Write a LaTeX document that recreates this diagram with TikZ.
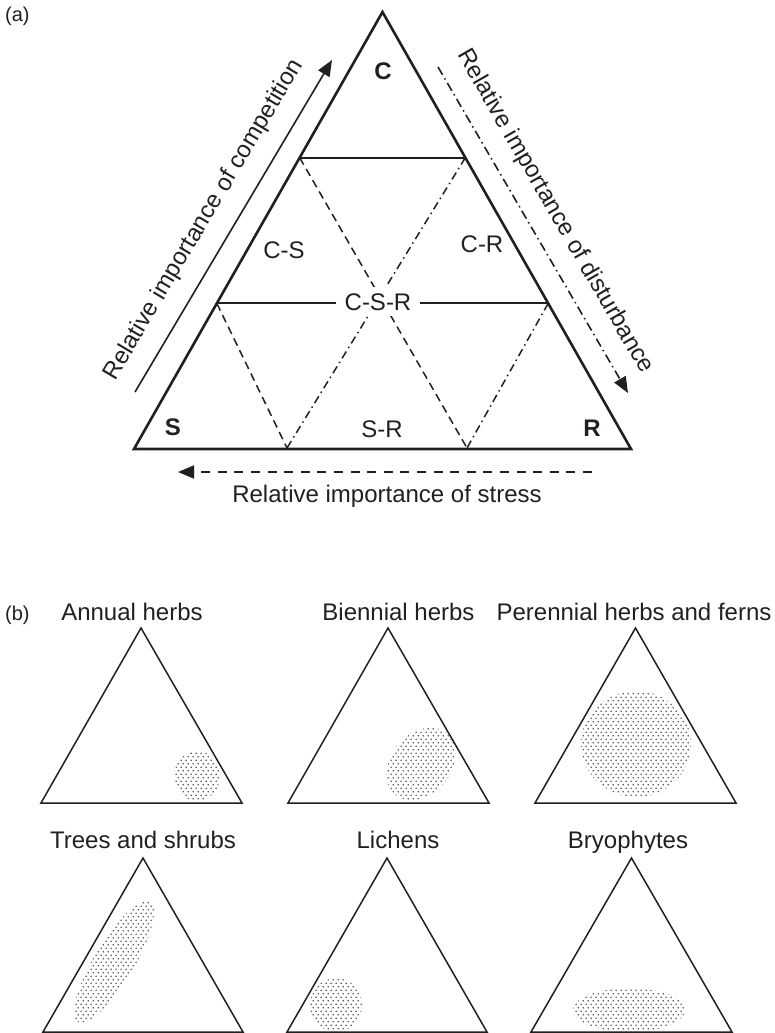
\documentclass[tikz,border=0pt]{standalone}
\usepackage{fontspec}
\setmainfont{Liberation Sans}
\usetikzlibrary{arrows.meta,patterns,calc}
\pgfdeclarepatternformonly{stipple}{\pgfqpoint{0pt}{0pt}}{\pgfqpoint{5pt}{7.4pt}}{\pgfqpoint{5pt}{7.4pt}}{%
  \pgfpathcircle{\pgfqpoint{1.25pt}{1.85pt}}{0.85pt}%
  \pgfpathcircle{\pgfqpoint{3.75pt}{5.55pt}}{0.85pt}%
  \pgfusepath{fill}%
}
\definecolor{ink}{HTML}{231F20}
\begin{document}
\begin{tikzpicture}[x=1pt,y=1pt,font=\fontsize{24}{28}\selectfont,
  lab/.style={inner sep=0pt,text=ink},
  panel/.style={inner sep=0pt,text=ink,font=\fontsize{20}{24}\selectfont},
  mainline/.style={draw=ink,line width=2.6pt,line join=miter},
  thinline/.style={draw=ink,line width=1.7pt},
  dsh/.style={draw=ink,line width=1.5pt,dash pattern=on 8pt off 5pt},
  ddot/.style={draw=ink,line width=1.5pt,dash pattern=on 8pt off 4pt on 1.5pt off 4pt},
  arr/.style={draw=ink,line width=1.6pt,-{Triangle[length=16pt,width=13pt]}},
  smalltri/.style={draw=ink,line width=1.5pt,line join=miter},
  blob/.style={pattern=stipple,pattern color=black!85}]
\useasboundingbox (0,0) rectangle (775,-1033);

% ---------- panel (a) ----------
\node[panel,anchor=base west] (pa) at (5,-22) {(a)};

\coordinate (C) at (382.5,-12);
\coordinate (S) at (134,-449);
\coordinate (R) at (631,-449);
\coordinate (L1) at ($(S)!2/3!(C)$);
\coordinate (L2) at ($(S)!1/3!(C)$);
\coordinate (R1) at ($(R)!2/3!(C)$);
\coordinate (R2) at ($(R)!1/3!(C)$);
\coordinate (B1) at (287,-448);
\coordinate (B2) at (467,-448);

\draw[thinline] (L1) -- (R1);
\draw[thinline] (L2) -- (R2);
\draw[dsh] (L1) -- (B2);
\draw[dsh] (L2) -- (B1);
\draw[ddot] (R1) -- (B1);
\draw[ddot] (R2) -- (B2);

\node[lab,anchor=base,fill=white,inner xsep=9pt,inner ysep=6pt] (csr) at (378,-310) {C-S-R};
\draw[mainline] (C) -- (S) -- (R) -- cycle;

\node[lab,anchor=base] (lc) at (383,-80) {\bfseries C};
\node[lab,anchor=base] (ls) at (173,-435) {\bfseries S};
\node[lab,anchor=base] (lr) at (592,-436) {\bfseries R};
\node[lab,anchor=base] (lcs) at (284,-258) {C-S};
\node[lab,anchor=base] (lcr) at (482,-252) {C-R};
\node[lab,anchor=base] (lsr) at (382,-437) {S-R};

\coordinate (a1s) at (135,-392);
\coordinate (a1e) at (332,-60);
\draw[arr] (a1s) -- (a1e);
\node[lab,rotate=59.3] (tcomp) at (204,-220) {Relative importance of competition};

\coordinate (a2s) at (438,-67);
\coordinate (a2e) at (628,-393);
\draw[arr,dash pattern=on 9pt off 4pt on 1.5pt off 4pt] (a2s) -- (a2e);
\node[lab,rotate=-60] (tdist) at (555,-211.5) {Relative importance of disturbance};

\coordinate (a3s) at (592,-472);
\coordinate (a3e) at (178,-472);
\draw[arr,dash pattern=on 9pt off 7.6pt] (a3s) -- (a3e);
\node[lab,anchor=base] (tstress) at (387,-502) {Relative importance of stress};

% ---------- panel (b) ----------
\node[panel,anchor=base west] (pb) at (5,-620) {(b)};

% titles
\node[lab,anchor=base] (t1) at (132,-620) {Annual herbs};
\node[lab,anchor=base] (t2) at (398.5,-620) {Biennial herbs};
\node[lab,anchor=base] (t3) at (634,-620) {Perennial herbs and ferns};
\node[lab,anchor=base] (t4) at (143,-848.5) {Trees and shrubs};
\node[lab,anchor=base] (t5) at (398,-848.5) {Lichens};
\node[lab,anchor=base] (t6) at (628,-848.5) {Bryophytes};

% blobs
\fill[blob] (197,-776) ellipse [x radius=23,y radius=25];
\fill[blob,rotate around={50:(421,-764)}] (421,-764) ellipse [x radius=40,y radius=30];
\fill[blob] (636,-744) ellipse [x radius=55,y radius=53];
\fill[blob,rotate around={59:(114,-962)}] (114,-962) ellipse [x radius=70,y radius=20];
\fill[blob] (336,-1005) ellipse [x radius=26,y radius=27];
\fill[blob] (629,-1010) ellipse [x radius=56,y radius=22];

% small triangles
\draw[smalltri] (141,-628) -- (41,-803) -- (242,-803) -- cycle;
\draw[smalltri] (388,-628) -- (288,-803) -- (489,-803) -- cycle;
\draw[smalltri] (635.5,-628) -- (535,-803) -- (736,-803) -- cycle;
\draw[smalltri] (143,-858) -- (43,-1032) -- (243,-1032) -- cycle;
\draw[smalltri] (387,-858) -- (287,-1032) -- (487,-1032) -- cycle;
\draw[smalltri] (631.5,-858) -- (531,-1032) -- (732,-1032) -- cycle;
\end{tikzpicture}
\end{document}
